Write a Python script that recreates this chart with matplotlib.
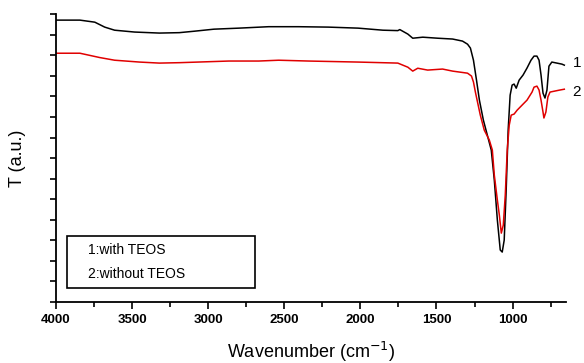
import matplotlib.pyplot as plt
from matplotlib.patches import Rectangle
from matplotlib.ticker import MultipleLocator

plt.rcParams['font.family'] = ['Liberation Sans', 'DejaVu Sans']

# curve 1: with TEOS
wn_1 = [4000, 3843, 3745, 3680, 3615, 3484, 3321, 3190, 3092, 2962, 2798, 2603,
        2407, 2211, 2015, 1852, 1754, 1741, 1688, 1656, 1590, 1492, 1394, 1329,
        1296, 1277, 1257, 1237, 1218, 1192, 1166, 1140, 1120, 1100, 1081, 1068,
        1055, 1042, 1029, 1016, 1003, 990, 976, 957, 931, 905, 879, 859, 840,
        826, 813, 800, 787, 774, 761, 742, 709, 676, 660]
t_1 = [13.71, 13.71, 13.61, 13.37, 13.22, 13.13, 13.08, 13.10, 13.17, 13.27,
       13.32, 13.39, 13.39, 13.37, 13.32, 13.22, 13.20, 13.25, 13.03, 12.83,
       12.88, 12.83, 12.79, 12.69, 12.54, 12.35, 11.76, 10.79, 9.82, 8.85, 8.12,
       7.39, 5.93, 3.99, 2.53, 2.43, 3.01, 5.44, 8.36, 10.06, 10.55, 10.60,
       10.40, 10.79, 11.04, 11.38, 11.76, 11.96, 11.96, 11.76, 11.04, 10.16,
       9.92, 10.31, 11.47, 11.67, 11.62, 11.57, 11.52]

# curve 2: without TEOS
wn_2 = [4000, 3843, 3713, 3615, 3451, 3321, 3190, 2864, 2668, 2537, 2341, 2015,
        1754, 1688, 1656, 1623, 1558, 1460, 1394, 1296, 1270, 1257, 1244, 1212,
        1186, 1153, 1133, 1120, 1100, 1087, 1074, 1061, 1048, 1035, 1022, 1009,
        990, 970, 937, 905, 872, 859, 840, 826, 813, 800, 794, 781, 768, 754,
        722, 689, 660]
t_2 = [12.10, 12.10, 11.89, 11.76, 11.67, 11.62, 11.64, 11.72, 11.72, 11.76,
       11.72, 11.67, 11.62, 11.42, 11.23, 11.37, 11.28, 11.33, 11.23, 11.13,
       10.99, 10.70, 10.20, 9.09, 8.36, 7.88, 7.39, 6.17, 4.96, 4.23, 3.35, 3.74,
       5.20, 7.39, 8.60, 9.09, 9.14, 9.33, 9.58, 9.82, 10.21, 10.45, 10.50,
       10.31, 9.82, 9.24, 8.95, 9.24, 9.97, 10.21, 10.26, 10.31, 10.35]

fig = plt.figure(figsize=(5.84, 3.63), dpi=100)
ax = fig.add_axes([0.0959, 0.168, 0.873, 0.793])

ax.plot(wn_1, t_1, color='black', lw=1.1)
ax.plot(wn_2, t_2, color='#e00000', lw=1.1)

ax.set_xlim(4000, 650)
ax.set_ylim(0, 14)
ax.spines['top'].set_visible(False)
ax.spines['right'].set_visible(False)
ax.spines['left'].set_linewidth(1.3)
ax.spines['bottom'].set_linewidth(1.3)

ax.xaxis.set_major_locator(MultipleLocator(500))
ax.xaxis.set_minor_locator(MultipleLocator(250))
ax.yaxis.set_major_locator(MultipleLocator(1))
ax.set_yticklabels([])
ax.tick_params(axis='x', which='major', direction='out', length=5, width=1.2,
               labelsize=9.5)
ax.tick_params(axis='x', which='minor', direction='out', length=3.5, width=1.2)
ax.tick_params(axis='y', direction='out', length=4, width=1.2)
for lbl in ax.get_xticklabels():
    lbl.set_fontweight('bold')

ax.set_xlabel('Wavenumber (cm$^{-1}$)', fontsize=13, labelpad=10)
ax.set_ylabel('T (a.u.)', fontsize=13, labelpad=14)

# curve labels on the right
ax.text(605, 11.62, '1', fontsize=11, va='center', clip_on=False)
ax.text(605, 10.2, '2', fontsize=11, va='center', clip_on=False)

# legend box
ax.add_patch(Rectangle((0.0216, 0.049), 0.368, 0.18, transform=ax.transAxes,
                       fill=False, lw=1.2, edgecolor='black'))
ax.text(0.063, 0.18, '1:with TEOS', transform=ax.transAxes, fontsize=10,
        va='center')
ax.text(0.063, 0.097, '2:without TEOS', transform=ax.transAxes, fontsize=10,
        va='center')

fig.savefig('out.png', dpi=100)
